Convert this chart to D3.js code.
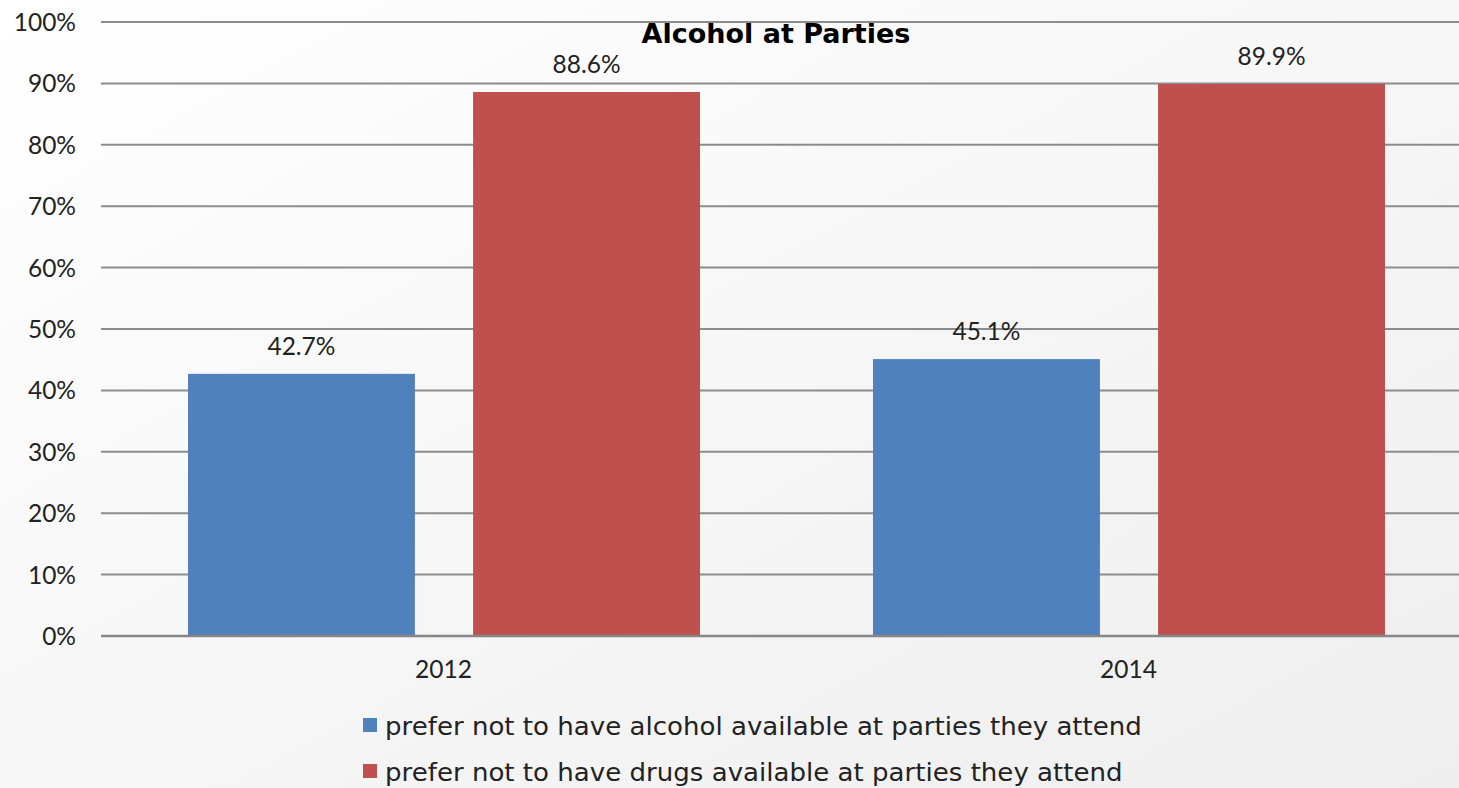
<!DOCTYPE html>
<html><head><meta charset="utf-8">
<script src="https://cdn.jsdelivr.net/npm/d3@7"></script>
<style>html,body{margin:0;padding:0;overflow:hidden;}</style>
</head><body>
<svg id="c" width="1459" height="788"></svg>
<script>
const categories = ["2012", "2014"];
const seriesNames = ["prefer not to have alcohol available at parties they attend",
                     "prefer not to have drugs available at parties they attend"];
const alcoholValues = [42.7, 45.1];
const drugValues = [88.6, 89.9];
const yTicks = [0,10,20,30,40,50,60,70,80,90,100];
const colors = ["#4f81bd", "#c0504d"];
const chartTitle = "Alcohol at Parties";

(function(){
const svg = d3.select("#c");
const defs = svg.append("defs");
const g0 = defs.append("linearGradient").attr("id","bg").attr("x1","0").attr("y1","0").attr("x2","1").attr("y2","1");
g0.append("stop").attr("offset","0").attr("stop-color","#ffffff");
g0.append("stop").attr("offset","1").attr("stop-color","#eeeeee");
svg.append("rect").attr("width",1459).attr("height",788).attr("fill","url(#bg)");

const pLeft = 101, pRight = 1471, pTop = 22, pBottom = 636;
const x = d3.scaleBand().domain(categories).range([pLeft, pRight]).paddingInner(0).paddingOuter(0);
const xs = d3.scaleBand().domain([0,1]).range([87, 599]).paddingInner(0.204).paddingOuter(0);
const y = d3.scaleLinear().domain([0,100]).range([pBottom, pTop]);
const font = "'Lato', 'Open Sans', sans-serif";
const txt = "#222222";

svg.append("g").selectAll("line").data(yTicks.filter(d=>d>0)).join("line")
  .attr("x1", pLeft).attr("x2", 1459).attr("y1", d=>y(d)).attr("y2", d=>y(d))
  .attr("stroke", "#8c8c8c").attr("stroke-width", 2);

svg.append("g").selectAll("text").data(yTicks).join("text")
  .attr("x", 76).attr("y", d=>y(d)+9).attr("text-anchor","end")
  .attr("font-family", font).attr("font-size", 24.5).attr("fill",txt)
  .text(d=>d+"%");

const data = categories.map((c,i)=>[alcoholValues[i], drugValues[i]]);
const groups = svg.append("g").selectAll("g").data(categories).join("g")
  .attr("transform", c=>`translate(${x(c)},0)`);
groups.each(function(c,i){
  const vals = data[i];
  d3.select(this).selectAll("rect").data(vals).join("rect")
    .attr("x", (v,j)=>xs(j)).attr("width", xs.bandwidth())
    .attr("y", v=>y(v)).attr("height", v=>pBottom - y(v))
    .attr("fill", (v,j)=>colors[j]);
  d3.select(this).selectAll("text").data(vals).join("text")
    .attr("x", (v,j)=>xs(j)+xs.bandwidth()/2).attr("y", v=>y(v)-19)
    .attr("text-anchor","middle").attr("font-family", font).attr("font-size", 24.5).attr("fill",txt)
    .text(v=>v.toFixed(1)+"%");
});

svg.append("line").attr("x1", pLeft).attr("x2", 1459).attr("y1", pBottom).attr("y2", pBottom)
  .attr("stroke", "#868686").attr("stroke-width", 2.5);

svg.append("g").selectAll("text").data(categories).join("text")
  .attr("x", c=>x(c)+x.bandwidth()/2).attr("y", 678).attr("text-anchor","middle")
  .attr("font-family", font).attr("font-size", 24.5).attr("fill",txt).text(c=>c);

svg.append("text").attr("x", 776).attr("y", 43).attr("text-anchor","middle")
  .attr("font-family", "'DejaVu Sans', sans-serif").attr("font-weight","bold")
  .attr("font-size", 27).attr("fill","#000").text(chartTitle);

const leg = svg.append("g").selectAll("g").data(seriesNames).join("g")
  .attr("transform", (d,i)=>`translate(363,${718 + i*46})`);
leg.append("rect").attr("width",14).attr("height",14).attr("fill",(d,i)=>colors[i]);
leg.append("g").attr("transform","translate(22,17) scale(1.086,1)")
  .append("text").attr("x", 0).attr("y", 0).attr("font-family", "'DejaVu Sans', sans-serif").attr("font-size", 24)
  .attr("fill",txt).text(d=>d);
})();
</script>
</body></html>
